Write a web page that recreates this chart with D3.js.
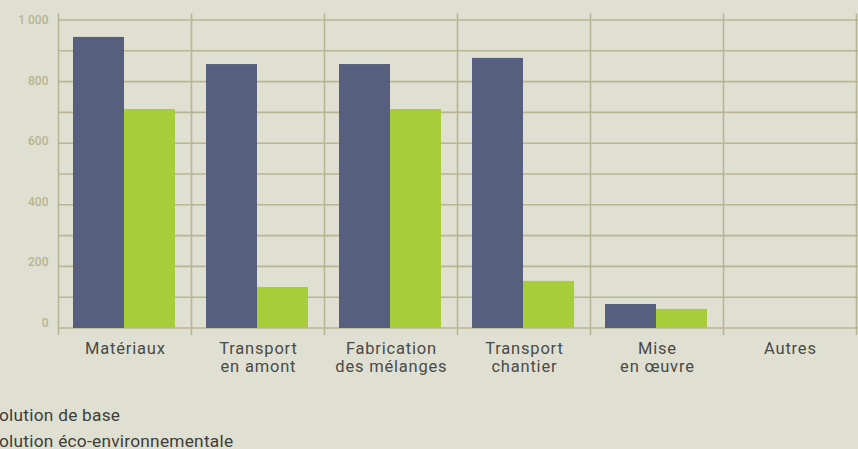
<!DOCTYPE html>
<html><head><meta charset="utf-8">
<script src="https://cdn.jsdelivr.net/npm/d3@7"></script>
<style>html,body{margin:0;padding:0;background:#dfe0d1;overflow:hidden}</style>
</head><body>
<svg id="c" width="858" height="449"></svg>
<script>
const categories = [["Matériaux"],["Transport","en amont"],["Fabrication","des mélanges"],["Transport","chantier"],["Mise","en œuvre"],["Autres"]];
const baseValues = [945, 857, 857, 877, 78, 0];
const ecoValues = [711, 133, 711, 153, 62, 0];
const seriesNames = ["Solution de base", "Solution éco-environnementale"];
const yTicks = [0, 200, 400, 600, 800, 1000];
const gridValues = d3.range(0, 1001, 100);

(function () {
const svg = d3.select("#c");
const W = 858, H = 449;
const mLeft = 58.5, mRight = 856.5, mTop = 20, mBottom = 328;
svg.append("rect").attr("width", W).attr("height", H).attr("fill", "#dfe0d1");

const x = d3.scaleBand().domain(d3.range(categories.length)).range([mLeft, mRight]).paddingInner(0).paddingOuter(0);
const y = d3.scaleLinear().domain([0, 1000]).range([mBottom, mTop]);
const yLab = d3.scaleLinear().domain([0, 1000]).range([322.5, 20]);
const gridColor = "#b8b596";

svg.append("g").selectAll("line").data(gridValues).join("line")
  .attr("x1", mLeft).attr("x2", mRight + 2)
  .attr("y1", d => y(d)).attr("y2", d => y(d))
  .attr("stroke", gridColor).attr("stroke-width", 1.6);

const bounds = d3.range(categories.length + 1).map(i => mLeft + i * x.bandwidth());
svg.append("g").selectAll("line").data(bounds).join("line")
  .attr("x1", d => d).attr("x2", d => d)
  .attr("y1", 13.5).attr("y2", 335)
  .attr("stroke", gridColor).attr("stroke-width", 1.6);

const fmt = d => d >= 1000 ? d3.format(",")(d).replace(",", " ") : String(d);
svg.append("g").selectAll("text").data(yTicks).join("text")
  .attr("x", 48.5).attr("y", d => yLab(d)).attr("dy", "0.35em")
  .attr("text-anchor", "end")
  .attr("font-family", "Roboto, 'DejaVu Sans', sans-serif")
  .attr("font-size", 12).attr("font-weight", 500).attr("fill", "#b7b48f")
  .text(fmt);

const inner = d3.scaleBand().domain([0, 1]).range([14.5, x.bandwidth() - 16.5]).padding(0);
const colors = ["#565f7e", "#a7ce38"];
const series = [baseValues, ecoValues];
series.forEach((vals, si) => {
  svg.append("g").selectAll("rect").data(vals).join("rect")
    .attr("x", (d, i) => x(i) + inner(si))
    .attr("width", inner.bandwidth())
    .attr("y", d => y(d))
    .attr("height", d => y(0) - y(d))
    .attr("fill", colors[si]);
});

const cl = svg.append("g");
categories.forEach((lines, i) => {
  const t = cl.append("text")
    .attr("text-anchor", "middle")
    .attr("font-family", "Roboto, 'DejaVu Sans', sans-serif")
    .attr("font-size", 16.5).attr("letter-spacing", 0.8).attr("fill", "#4a4a47");
  lines.forEach((ln, j) => {
    t.append("tspan").attr("x", x(i) + x.bandwidth() / 2 + 0.4).attr("y", 354 + j * 18).text(ln);
  });
});

svg.append("g").selectAll("text").data(seriesNames).join("text")
  .attr("x", -11.5).attr("y", (d, i) => 420.5 + i * 26)
  .attr("font-family", "Roboto, 'DejaVu Sans', sans-serif")
  .attr("font-size", 17.3).attr("letter-spacing", 0.25).attr("fill", "#3d3d3a")
  .text(d => d);
})();
</script>
</body></html>
